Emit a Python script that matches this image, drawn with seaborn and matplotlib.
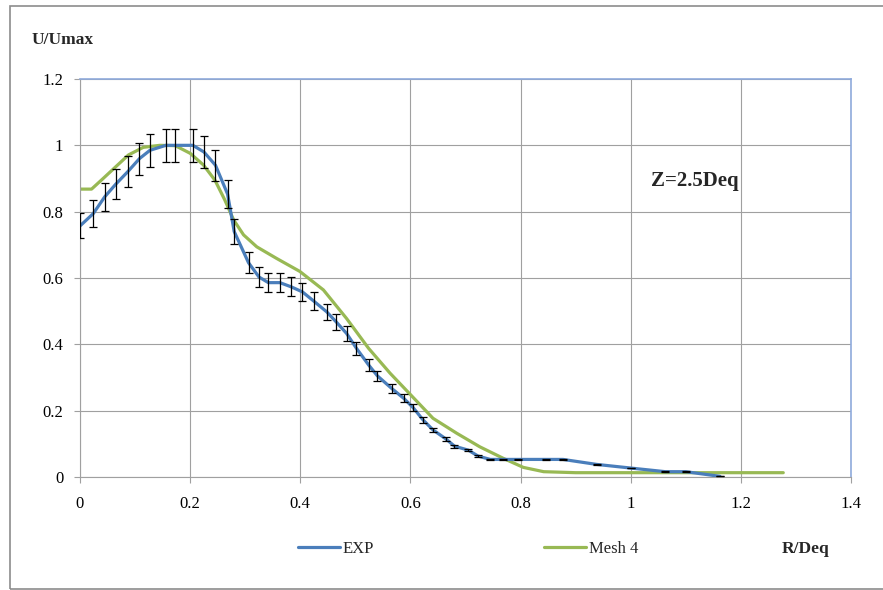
import numpy as np
import matplotlib
matplotlib.use('Agg')
import matplotlib.pyplot as plt
import seaborn as sns
from matplotlib.lines import Line2D
from matplotlib.patches import Rectangle
from matplotlib.ticker import FuncFormatter, MultipleLocator

exp_r = [0.0, 0.024, 0.045, 0.065, 0.087, 0.108, 0.127, 0.156, 0.173, 0.205,
         0.225, 0.246, 0.268, 0.280, 0.306, 0.325, 0.342, 0.363, 0.384, 0.404,
         0.424, 0.448, 0.465, 0.484, 0.502, 0.524, 0.540, 0.566, 0.588, 0.605,
         0.623, 0.641, 0.665, 0.680, 0.705, 0.723, 0.745, 0.769, 0.796, 0.847,
         0.877, 0.938, 1.000, 1.063, 1.100, 1.162]
exp_u = [0.757, 0.794, 0.845, 0.883, 0.921, 0.960, 0.985, 1.000, 1.000, 1.000,
         0.980, 0.940, 0.853, 0.740, 0.646, 0.603, 0.586, 0.586, 0.573, 0.558,
         0.531, 0.498, 0.468, 0.433, 0.388, 0.338, 0.305, 0.267, 0.237, 0.209,
         0.172, 0.142, 0.114, 0.093, 0.081, 0.063, 0.053, 0.053, 0.053, 0.053,
         0.053, 0.038, 0.027, 0.016, 0.016, 0.002]
err_pct = 5  # percentage error bars

# simulation, Mesh 4
mesh_r = [0.0, 0.021, 0.042, 0.064, 0.088, 0.115, 0.145, 0.173, 0.200, 0.224,
          0.245, 0.263, 0.279, 0.297, 0.321, 0.357, 0.399, 0.442, 0.484, 0.524,
          0.563, 0.602, 0.641, 0.684, 0.726, 0.769, 0.805, 0.842, 0.900, 1.000,
          1.100, 1.200, 1.277]
mesh_u = [0.868, 0.868, 0.900, 0.934, 0.971, 0.994, 1.000, 0.999, 0.976, 0.941,
          0.895, 0.835, 0.775, 0.730, 0.694, 0.659, 0.620, 0.564, 0.478, 0.388,
          0.313, 0.245, 0.177, 0.132, 0.091, 0.056, 0.029, 0.016, 0.013, 0.013,
          0.013, 0.013, 0.013]

BLUE = '#4A7EBB'
GREEN = '#98B954'
GRID = '#A0A0A0'

sns.set_style('white')
plt.rcParams['font.family'] = ['Liberation Serif', 'DejaVu Serif']

fig = plt.figure(figsize=(8.83, 5.90), dpi=100)
ax = fig.add_axes([80 / 883, 1 - 477 / 590, (851 - 80) / 883, (477 - 79) / 590])

sns.lineplot(x=mesh_r, y=mesh_u, color=GREEN, linewidth=2.3, ax=ax, zorder=2)
sns.lineplot(x=exp_r, y=exp_u, color=BLUE, linewidth=2.3, ax=ax, zorder=3)
yerr = [u * err_pct / 100 for u in exp_u]
ax.errorbar(exp_r, exp_u, yerr=yerr, fmt='none', ecolor='black',
            elinewidth=0.9, capsize=3, capthick=0.9, zorder=4)

ax.set_xlim(0, 1.4)
ax.set_ylim(0, 1.2)
ax.xaxis.set_major_locator(MultipleLocator(0.2))
ax.yaxis.set_major_locator(MultipleLocator(0.2))
fmt = FuncFormatter(lambda v, p: f'{v:g}')
ax.xaxis.set_major_formatter(fmt)
ax.yaxis.set_major_formatter(fmt)
ax.grid(True, color=GRID, linewidth=0.8)
ax.set_axisbelow(True)
ax.tick_params(axis='both', direction='out', length=4, width=0.8,
               color=GRID, labelsize=12, labelcolor='black')
ax.tick_params(axis='x', pad=10)
ax.tick_params(axis='y', pad=8)
ax.tick_params(bottom=True, left=True)
for side in ['left', 'bottom']:
    ax.spines[side].set_color(GRID)
    ax.spines[side].set_linewidth(0.8)
for side in ['top', 'right']:
    ax.spines[side].set_color('#8FAADC')
    ax.spines[side].set_linewidth(1.2)
ax.set_xlabel('')
ax.set_ylabel('')

ax.text(739 / 883, 1 - 181 / 590, 'Z=2.5Deq', transform=fig.transFigure,
        ha='right', va='center', fontsize=15, fontweight='bold')
fig.text(32 / 883, 1 - 40 / 590, 'U/Umax', ha='left', va='center',
         fontsize=12.5, fontweight='bold')
fig.text(829 / 883, 1 - 549 / 590, 'R/Deq', ha='right', va='center',
         fontsize=12.5, fontweight='bold')

handles = [Line2D([], [], color=BLUE, lw=2.3), Line2D([], [], color=GREEN, lw=2.3)]
fig.legend(handles, ['EXP', 'Mesh 4'], loc='center left',
           bbox_to_anchor=(298 / 883, 1 - 549 / 590), ncol=2, frameon=False,
           fontsize=12, handlelength=2.5, handletextpad=0.2,
           columnspacing=10.2, borderpad=0, borderaxespad=0)

# outer chart frame
fig.patches.append(Rectangle((10 / 883, 1 / 590), 1.0, 583 / 590,
                             transform=fig.transFigure, fill=False,
                             edgecolor='#8C8C8C', linewidth=1.2))

fig.savefig('out.png', dpi=100)
